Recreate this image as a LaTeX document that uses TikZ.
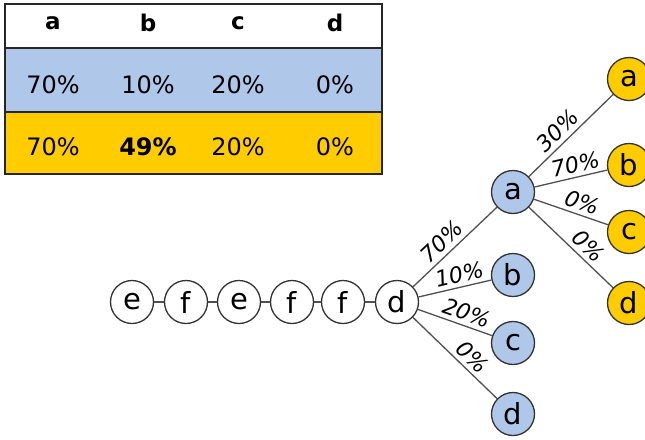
\documentclass[tikz,border=0pt]{standalone}
\usepackage{fontspec}
\setmainfont{DejaVu Sans}
\definecolor{rowblue}{HTML}{AFC7E9}
\definecolor{rowgold}{HTML}{FFCC00}
\definecolor{linkgray}{HTML}{505050}
\begin{document}
\begin{tikzpicture}[x=1pt, y=-1pt]
      \tikzstyle{sym}=[circle, draw=black!80, line width=1.3pt, minimum size=43pt,
                       inner sep=0pt, fill=white, font=\fontsize{29}{29}\selectfont]
      \tikzstyle{symblue}=[sym, fill=rowblue]
      \tikzstyle{symgold}=[sym, fill=rowgold]
      \tikzstyle{link}=[draw=linkgray, line width=1.3pt]
      \tikzstyle{prob}=[sloped, above, inner sep=4pt,
                        font=\fontsize{22}{22}\selectfont\itshape]
      \tikzstyle{row}=[draw=black!85, line width=1.3pt, minimum width=377pt, inner sep=0pt]
      \tikzstyle{cell}=[font=\fontsize{24}{24}\selectfont]
      \tikzstyle{headcell}=[font=\fontsize{23}{23}\selectfont\bfseries]
      \useasboundingbox (0,0) rectangle (645,439);
      % table
      \node[row, fill=white, minimum height=44pt] (head) at (193.5,26) {};
      \node[row, fill=rowblue, minimum height=64pt] (blue) at (193.5,80) {};
      \node[row, fill=rowgold, minimum height=62pt] (gold) at (193.5,143) {};
      \node[headcell] (ha) at (53,23)  {a};
      \node[headcell] (hb) at (148,23) {b};
      \node[headcell] (hc) at (238,23) {c};
      \node[headcell] (hd) at (335,23) {d};
      \node[cell] (pa) at (53,85)  {70\%};
      \node[cell] (pb) at (148,85) {10\%};
      \node[cell] (pc) at (238,85) {20\%};
      \node[cell] (pd) at (335,85) {0\%};
      \node[cell] (qa) at (53,147)  {70\%};
      \node[cell] (qb) at (148,147) {\bfseries 49\%};
      \node[cell] (qc) at (238,147) {20\%};
      \node[cell] (qd) at (335,147) {0\%};
      % history chain
      \node[sym] (e1) at (132,302) {e};
      \node[sym] (f1) at (186,302) {f};
      \node[sym] (e2) at (239,302) {e};
      \node[sym] (f2) at (292,302) {f};
      \node[sym] (f3) at (343,302) {f};
      \node[sym] (d0) at (397,302) {d};
      % first guess
      \node[symblue] (ba) at (513,192) {a};
      \node[symblue] (bb) at (513,275) {b};
      \node[symblue] (bc) at (513,343) {c};
      \node[symblue] (bd) at (513,414) {d};
      % second guess
      \node[symgold] (ga) at (629,79)  {a};
      \node[symgold] (gb) at (629,165) {b};
      \node[symgold] (gc) at (629,232) {c};
      \node[symgold] (gd) at (629,303) {d};
      \draw[link] (e1) -- (f1);
      \draw[link] (f1) -- (e2);
      \draw[link] (e2) -- (f2);
      \draw[link] (f2) -- (f3);
      \draw[link] (f3) -- (d0);
      \draw[link] (d0) -- node[prob, pos=0.45] {70\%} (ba);
      \draw[link] (d0) -- node[prob, pos=0.6] {10\%} (bb);
      \draw[link] (d0) -- node[prob, pos=0.6] {20\%} (bc);
      \draw[link] (d0) -- node[prob, pos=0.6] {0\%} (bd);
      \draw[link] (ba) -- node[prob, pos=0.45] {30\%} (ga);
      \draw[link] (ba) -- node[prob, pos=0.6] {70\%} (gb);
      \draw[link] (ba) -- node[prob, pos=0.6] {0\%} (gc);
      \draw[link] (ba) -- node[prob, pos=0.6] {0\%} (gd);
\end{tikzpicture}
\end{document}
